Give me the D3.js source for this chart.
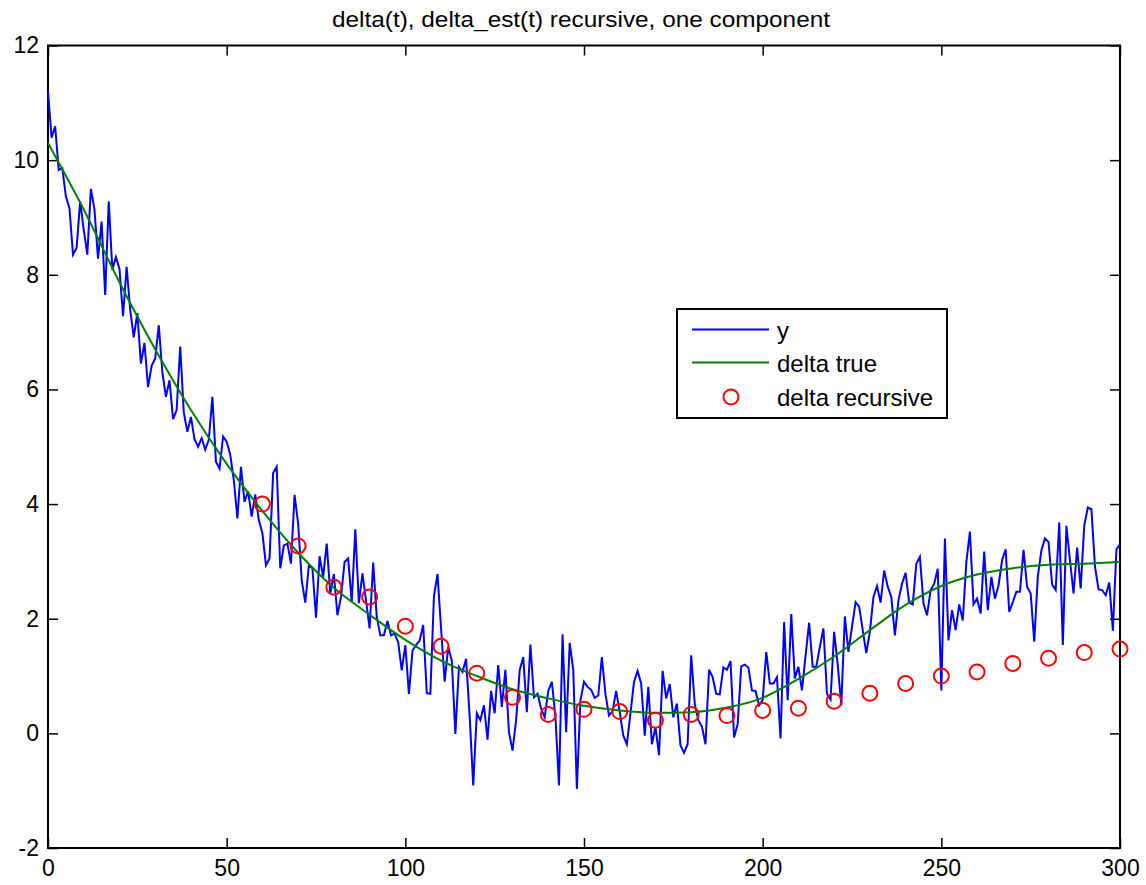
<!DOCTYPE html>
<html>
<head>
<meta charset="utf-8">
<script src="https://cdnjs.cloudflare.com/ajax/libs/d3/7.8.5/d3.min.js"></script>
<style>
  body { margin: 0; background: #fff; }
  text { font-family: "Liberation Sans", Arial, Helvetica, sans-serif; fill: #000; }
</style>
</head>
<body>
<div id="chart"></div>
<script>
// noisy observations y(t), t = 0..300
var yObs = [
  11.2, 10.39, 10.59, 9.83, 9.86, 9.37, 9.16, 8.35, 8.47, 9.28,
  8.79, 8.35, 9.5, 9.14, 8.28, 8.93, 7.65, 9.28, 8.09, 8.31,
  8.1, 7.28, 8.14, 7.39, 6.91, 7.33, 6.45, 6.81, 6.04, 6.41,
  6.54, 7.12, 6.3, 5.87, 6.16, 5.48, 5.64, 6.75, 5.6, 5.26,
  5.52, 5.13, 5.0, 5.15, 4.95, 5.12, 5.87, 4.74, 4.62, 5.18,
  5.09, 4.86, 4.42, 3.75, 4.65, 4.04, 4.22, 3.78, 4.17, 3.72,
  3.49, 2.93, 3.05, 4.54, 4.65, 2.88, 3.28, 3.31, 2.96, 4.16,
  3.66, 2.67, 2.28, 2.93, 2.88, 2.02, 3.09, 2.73, 3.31, 2.44,
  2.78, 2.06, 2.38, 2.99, 3.05, 2.29, 3.56, 2.27, 2.79, 2.32,
  1.83, 2.98, 2.03, 1.71, 1.71, 1.96, 1.71, 1.74, 1.59, 1.10,
  1.54, 0.69, 1.44, 1.54, 1.62, 1.89, 0.70, 0.69, 2.39, 2.78,
  1.83, 0.90, 1.51, 1.27, -0.01, 1.16, 1.07, 1.30, 0.3, -0.91,
  0.35, 0.23, 0.49, -0.11, 0.74, 0.35, 1.19, 0.46, 1.11, 0.02,
  -0.30, 0.23, 1.10, 1.33, 0.37, 1.55, 0.63, 0.69, 0.43, 0.28,
  0.74, 0.90, 0.3, -0.91, 1.73, 0.02, 1.58, 1.10, -0.97, 0.57,
  0.90, 0.81, 0.76, 0.62, 0.66, 1.33, 0.69, 0.31, 0.39, 0.74,
  0.37, -0.04, -0.19, 0.35, 0.90, 1.09, 0.87, -0.04, 0.81, -0.19,
  0.11, -0.38, 1.09, 0.61, 0.86, 0.28, 0.52, -0.21, -0.34, -0.19,
  1.36, 0.51, 0.23, 0.12, -0.19, 1.11, 0.98, 0.69, 0.68, 1.15,
  1.11, 1.26, -0.07, 0.16, 1.17, 1.2, 1.15, 0.75, 0.74, 0.49,
  0.58, 1.42, 0.87, 0.87, 0.98, -0.09, 1.94, 0.58, 2.08, 0.96,
  1.16, 0.75, 1.35, 1.93, 1.16, 1.16, 1.51, 1.83, 0.69, 0.59,
  1.77, 1.2, 0.49, 2.04, 1.42, 1.86, 2.29, 2.21, 1.8, 1.40,
  1.77, 2.38, 2.57, 2.28, 2.84, 2.56, 2.38, 1.71, 2.32, 2.61,
  2.80, 2.28, 2.25, 2.96, 3.08, 2.27, 2.06, 2.50, 2.61, 2.87,
  0.75, 3.40, 1.62, 2.15, 1.80, 2.25, 1.97, 2.99, 3.52, 2.25,
  2.35, 2.09, 3.17, 2.15, 2.73, 2.35, 2.58, 3.02, 3.21, 2.12,
  2.29, 2.47, 2.47, 3.20, 2.56, 2.44, 1.60, 2.74, 3.19, 3.40,
  3.34, 2.60, 2.50, 3.68, 1.54, 3.62, 3.02, 2.44, 3.24, 2.53,
  3.63, 3.94, 3.91, 2.91, 2.51, 2.50, 2.41, 2.63, 1.79, 3.21,
  3.30
];

// true delta, read every 10 steps
var trueT = [0, 10, 20, 30, 40, 50, 60, 70, 80, 90, 100, 110, 120, 130, 140, 150,
  160, 170, 180, 190, 200, 210, 220, 230, 240, 250, 260, 270, 280, 290, 300];
var trueVals = [10.3, 9.14, 7.87, 6.70, 5.64, 4.70, 3.88, 3.15, 2.54, 2.07, 1.63, 1.27,
  1.00, 0.77, 0.61, 0.48, 0.40, 0.36, 0.37, 0.45, 0.62, 0.95, 1.34, 1.80, 2.24,
  2.57, 2.77, 2.88, 2.94, 2.96, 2.99];

// recursive estimate
var recT = [60, 70, 80, 90, 100, 110, 120, 130, 140, 150, 160, 170, 180, 190, 200,
  210, 220, 230, 240, 250, 260, 270, 280, 290, 300];
var recVals = [4.0, 3.27, 2.55, 2.38, 1.87, 1.52, 1.05, 0.63, 0.33, 0.42, 0.38, 0.23,
  0.33, 0.31, 0.40, 0.44, 0.56, 0.70, 0.87, 1.0, 1.07, 1.22, 1.31, 1.41, 1.47];

var xTicks = [0, 50, 100, 150, 200, 250, 300];
var yTicks = [-2, 0, 2, 4, 6, 8, 10, 12];
var legendLabels = ["y", "delta true", "delta recursive"];

// SVG size and plot box
var svgWidth = 1146;
var svgHeight = 885;
var margin = { top: 45.5, right: 26, bottom: 37, left: 48 };
var chartWidth = svgWidth - margin.left - margin.right;
var chartHeight = svgHeight - margin.top - margin.bottom;

var svg = d3.select("#chart").append("svg")
  .attr("width", svgWidth)
  .attr("height", svgHeight);

svg.append("rect")
  .attr("width", svgWidth)
  .attr("height", svgHeight)
  .attr("fill", "#fff");

var chartGroup = svg.append("g")
  .attr("transform", `translate(${margin.left}, ${margin.top})`);

// scales
var xScale = d3.scaleLinear().domain([0, 300]).range([0, chartWidth]);
var yScale = d3.scaleLinear().domain([-2, 12]).range([chartHeight, 0]);

// plain hyphen for negatives, like matlab
var plainFormat = d => String(d);

// axes, ticks pointing inwards on all four sides
var bottomAxis = d3.axisBottom(xScale).tickValues(xTicks).tickSize(-10).tickSizeOuter(0).tickPadding(12).tickFormat(plainFormat);
var topAxis = d3.axisTop(xScale).tickValues(xTicks).tickSize(-10).tickSizeOuter(0).tickFormat("");
var leftAxis = d3.axisLeft(yScale).tickValues(yTicks).tickSize(-10).tickSizeOuter(0).tickPadding(9).tickFormat(plainFormat);
var rightAxis = d3.axisRight(yScale).tickValues(yTicks).tickSize(-10).tickSizeOuter(0).tickFormat("");

function styleAxis(g) {
  g.select(".domain").remove();
  g.selectAll(".tick line").attr("stroke", "#000").attr("stroke-width", 1.5);
  g.selectAll(".tick text").style("font-size", "23px").attr("fill", "#000");
}

chartGroup.append("g").attr("transform", `translate(0, ${chartHeight})`).call(bottomAxis).call(styleAxis);
chartGroup.append("g").call(topAxis).call(styleAxis);
chartGroup.append("g").call(leftAxis).call(styleAxis);
chartGroup.append("g").attr("transform", `translate(${chartWidth}, 0)`).call(rightAxis).call(styleAxis);

// plot box
chartGroup.append("rect")
  .attr("width", chartWidth)
  .attr("height", chartHeight)
  .attr("fill", "none")
  .attr("stroke", "#000")
  .attr("stroke-width", 2);

// blue y line
var yLine = d3.line()
  .x((d, i) => xScale(i))
  .y(d => yScale(d));

chartGroup.append("path")
  .datum(yObs)
  .attr("d", yLine)
  .attr("fill", "none")
  .attr("stroke", "#0000ff")
  .attr("stroke-width", 2)
  .attr("stroke-linejoin", "miter");

// green true line
var trueLine = d3.line()
  .x((d, i) => xScale(trueT[i]))
  .y(d => yScale(d))
  .curve(d3.curveMonotoneX);

chartGroup.append("path")
  .datum(trueVals)
  .attr("d", trueLine)
  .attr("fill", "none")
  .attr("stroke", "#008000")
  .attr("stroke-width", 2);

// red circles
chartGroup.selectAll("circle.rec")
  .data(recVals)
  .enter()
  .append("circle")
  .attr("class", "rec")
  .attr("cx", (d, i) => xScale(recT[i]))
  .attr("cy", d => yScale(d))
  .attr("r", 7.5)
  .attr("fill", "none")
  .attr("stroke", "#ff0000")
  .attr("stroke-width", 2);

// title
svg.append("text")
  .attr("x", 581)
  .attr("y", 27)
  .attr("text-anchor", "middle")
  .attr("textLength", 498)
  .attr("lengthAdjust", "spacingAndGlyphs")
  .style("font-size", "22px")
  .text("delta(t), delta_est(t) recursive, one component");

// legend
var legend = svg.append("g").attr("transform", "translate(677, 309)");

legend.append("rect")
  .attr("width", 270)
  .attr("height", 109)
  .attr("fill", "#fff")
  .attr("stroke", "#000")
  .attr("stroke-width", 2);

var rowY = [20.5, 53.5, 88];

legend.append("line")
  .attr("x1", 15).attr("x2", 92)
  .attr("y1", rowY[0]).attr("y2", rowY[0])
  .attr("stroke", "#0000ff").attr("stroke-width", 2);

legend.append("line")
  .attr("x1", 15).attr("x2", 92)
  .attr("y1", rowY[1]).attr("y2", rowY[1])
  .attr("stroke", "#008000").attr("stroke-width", 2);

legend.append("circle")
  .attr("cx", 54).attr("cy", rowY[2])
  .attr("r", 7.5)
  .attr("fill", "none")
  .attr("stroke", "#ff0000").attr("stroke-width", 2);

legend.selectAll("text")
  .data(legendLabels)
  .enter()
  .append("text")
  .attr("x", 100)
  .attr("y", (d, i) => rowY[i] + 9)
  .style("font-size", "24px")
  .text(d => d);
</script>
</body>
</html>
